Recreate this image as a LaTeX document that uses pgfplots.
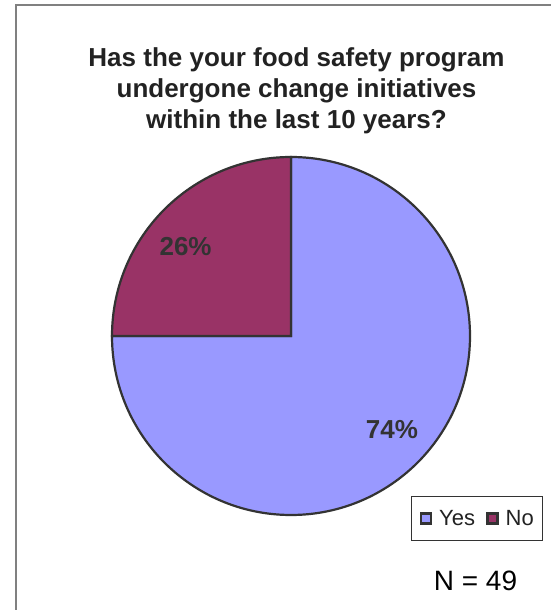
\documentclass[border=0pt]{standalone}
\usepackage{pgfplots}
\pgfplotsset{compat=1.18}
\usepackage{pgfplotstable}
\usepackage{fontspec}
\setmainfont{Liberation Sans}
\definecolor{yescol}{HTML}{9999FF}
\definecolor{nocol}{HTML}{993366}
\definecolor{edge}{HTML}{333333}
\definecolor{txt}{HTML}{222222}
\definecolor{frame}{HTML}{808080}
% label, value shown (%), start angle, end angle of the drawn slice
\pgfplotstableread{
label share start stop
Yes 74 -180 90
No 26 90 180
}\pietable
\begin{document}
\begin{tikzpicture}
\useasboundingbox (0,0) rectangle (550pt,610pt);
\draw[frame, line width=2pt] (16pt,0pt) -- (16pt,604.5pt) -- (551pt,604.5pt);
\node[anchor=base, text=txt, font=\fontsize{26}{31}\selectfont\bfseries] at (296.5pt,543.3pt) {Has the your food safety program};
\node[anchor=base, text=txt, font=\fontsize{26}{31}\selectfont\bfseries] at (296.5pt,512pt) {undergone change initiatives};
\node[anchor=base, text=txt, font=\fontsize{26}{31}\selectfont\bfseries] at (296.5pt,481pt) {within the last 10 years?};
\node[anchor=base, text=black, font=\fontsize{28}{32}\selectfont] at (475.5pt,19pt) {N = 49};
\begin{axis}[
  at={(291pt,274pt)}, anchor=center,
  width=358pt, height=358pt, scale only axis,
  xmin=-1, xmax=1, ymin=-1, ymax=1,
  hide axis, clip=false,
  legend columns=2,
  legend style={at={(0.8344,0.0539)}, anchor=north west, draw=edge, line width=0.8pt,
    fill=white, inner xsep=8.5pt, inner ysep=14pt,
    font=\fontsize{22}{24}\selectfont, text=txt,
    nodes={inner sep=0pt},
    /tikz/every odd column/.append style={column sep=7pt},
    /tikz/every even column/.append style={column sep=11pt}},
  legend image code/.code={\draw[#1, draw=edge, line width=2.6pt] (0pt,-5pt) rectangle (10pt,5pt);},
]
\pgfplotstablegetelem{0}{start}\of\pietable \let\ya\pgfplotsretval
\pgfplotstablegetelem{0}{stop}\of\pietable \let\yb\pgfplotsretval
\pgfplotstablegetelem{1}{start}\of\pietable \let\na\pgfplotsretval
\pgfplotstablegetelem{1}{stop}\of\pietable \let\nb\pgfplotsretval
\pgfplotstablegetelem{0}{share}\of\pietable \let\ys\pgfplotsretval
\pgfplotstablegetelem{1}{share}\of\pietable \let\ns\pgfplotsretval
\addlegendimage{fill=yescol}
\addlegendentry{Yes}
\addlegendimage{fill=nocol}
\addlegendentry{No}
\filldraw[fill=yescol, draw=edge, line width=2.2pt, line join=miter]
  (axis cs:0,0) -- (axis cs:{cos(\ya)},{sin(\ya)}) arc[start angle=\ya, end angle=\yb, radius=179pt] -- cycle;
\filldraw[fill=nocol, draw=edge, line width=2.2pt, line join=miter]
  (axis cs:0,0) -- (axis cs:{cos(\na)},{sin(\na)}) arc[start angle=\na, end angle=\nb, radius=179pt] -- cycle;
\node[text=edge, font=\fontsize{26}{30}\selectfont\bfseries] at (axis cs:-0.589,0.497) {\ns\%};
\node[text=edge, font=\fontsize{26}{30}\selectfont\bfseries] at (axis cs:0.564,-0.520) {\ys\%};
\end{axis}
\end{tikzpicture}
\end{document}
